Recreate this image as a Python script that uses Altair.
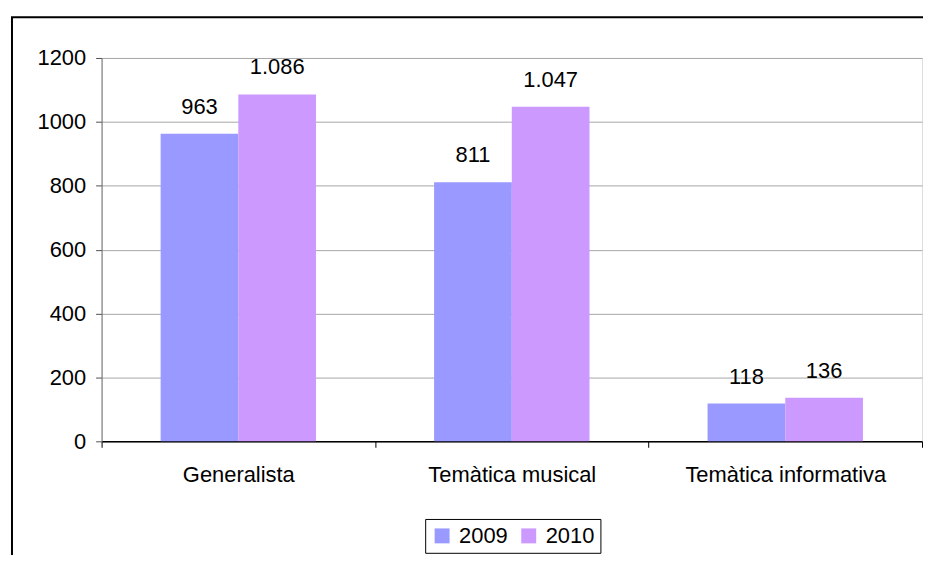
import altair as alt
import pandas as pd

categories = ["Generalista", "Temàtica musical", "Temàtica informativa"]
years = ["2009", "2010"]
values_2009 = [963, 811, 118]
values_2010 = [1086, 1047, 136]
y_ticks = [0, 200, 400, 600, 800, 1000, 1200]
colors = ["#9999FF", "#CC99FF"]

rows = []
for c, a, b in zip(categories, values_2009, values_2010):
    rows.append({"cat": c, "year": "2009", "value": a})
    rows.append({"cat": c, "year": "2010", "value": b})
df = pd.DataFrame(rows)
df["label"] = df["value"].map(lambda v: f"{v:,}".replace(",", "."))

FONT = "Liberation Sans"
FS = 22
W, H = 824, 385

x = alt.X("cat:N", sort=categories, title=None,
          scale=alt.Scale(paddingInner=0, paddingOuter=0),
          axis=alt.Axis(labelAngle=0, labelFontSize=FS, labelColor="black",
                        labelFont=FONT, labelLimit=400, domainColor="black",
                        tickColor="black", tickSize=6, tickBand="extent",
                        labelPadding=17, grid=False, domainWidth=1.5))
xo = alt.XOffset("year:N", sort=years,
                 scale=alt.Scale(paddingInner=0, paddingOuter=0.76))
y = alt.Y("value:Q", title=None,
          scale=alt.Scale(domain=[0, 1200], nice=False),
          axis=alt.Axis(values=y_ticks, format="d", labelFontSize=FS,
                        labelColor="black", labelFont=FONT,
                        domainColor="#707070", tickColor="#505050",
                        tickSize=6, labelPadding=10, gridColor="#a6a6a6",
                        gridWidth=1))

base = alt.Chart(df)

bars = base.mark_bar().encode(
    x=x, xOffset=xo, y=y,
    color=alt.Color("year:N", sort=years, title=None,
                    scale=alt.Scale(domain=years, range=colors),
                    legend=alt.Legend(orient="none", legendX=325, legendY=463,
                                      direction="horizontal", symbolType="square",
                                      symbolSize=225, symbolStrokeWidth=0,
                                      labelFontSize=FS, labelFont=FONT,
                                      labelColor="black", labelOffset=6,
                                      columnPadding=10, padding=6,
                                      strokeColor="black", fillColor="white")),
)

labels = base.mark_text(baseline="alphabetic", dy=-20, fontSize=FS,
                        font=FONT, color="black").encode(
    x=alt.X("cat:N", sort=categories),
    xOffset=alt.XOffset("year:N", sort=years),
    y=alt.Y("value:Q"),
    text="label:N",
)

frame = alt.Chart(pd.DataFrame({"a": [0]})).mark_rect(
    fill=None, stroke="black", strokeWidth=2
).encode(
    x=alt.value(-90), x2=alt.value(W + 40),
    y=alt.value(-41), y2=alt.value(H + 160),
)

chart = alt.layer(frame, bars, labels).properties(
    width=W, height=H,
    autosize=alt.AutoSizeParams(type="none"),
    padding={"left": 94, "top": 49, "right": 1, "bottom": 113},
).configure_view(stroke=None).configure(font=FONT)

chart.save("out.html", embed_options={"renderer": "svg", "actions": False})
